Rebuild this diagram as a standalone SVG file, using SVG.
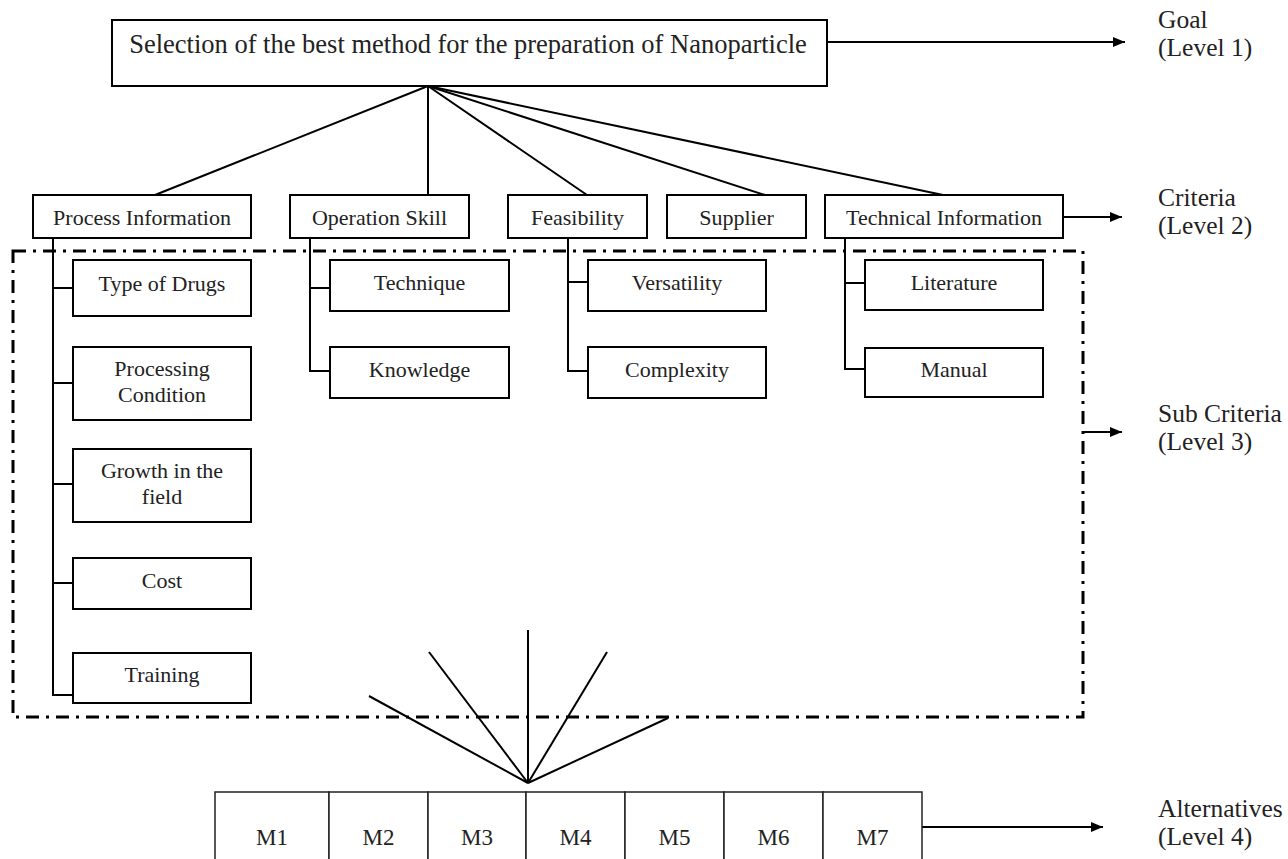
<svg xmlns="http://www.w3.org/2000/svg" width="1288" height="859" viewBox="0 0 1288 859">
<defs>
<style>
.box{fill:#fff;stroke:#000;stroke-width:2}
.cell{fill:#fff;stroke:#222;stroke-width:1.5}
.ln{fill:none;stroke:#000;stroke-width:2}
.t{font-family:"Liberation Serif","Times New Roman",serif;fill:#222;text-anchor:middle}
.g{font-size:26.5px}
.c{font-size:22px}
.s{font-size:22px}
.m{font-size:23px}
.lv{font-family:"Liberation Serif","Times New Roman",serif;fill:#222;font-size:25.5px}
.dd{fill:none;stroke:#000;stroke-width:3;stroke-dasharray:13 7 3 7}
</style>
<marker id="ah" markerWidth="12" markerHeight="10" refX="12" refY="5" orient="auto" markerUnits="userSpaceOnUse">
<path d="M0,0 L12,5 L0,10 Z" fill="#000"/>
</marker>
</defs>
<rect width="1288" height="859" fill="#fff"/>

<g id="subcriteria-boundary">
<rect class="dd" x="13" y="251" width="1070" height="466"/>
</g>

<g id="connectors">
<line class="ln" x1="428" y1="86" x2="155" y2="195"/>
<line class="ln" x1="428" y1="86" x2="428" y2="195"/>
<line class="ln" x1="428" y1="86" x2="587" y2="195"/>
<line class="ln" x1="428" y1="86" x2="765" y2="195"/>
<line class="ln" x1="428" y1="86" x2="943" y2="195"/>
<polyline class="ln" points="53,238 53,695 73,695"/>
<line class="ln" x1="53" y1="288" x2="73" y2="288"/>
<line class="ln" x1="53" y1="383" x2="73" y2="383"/>
<line class="ln" x1="53" y1="484" x2="73" y2="484"/>
<line class="ln" x1="53" y1="583" x2="73" y2="583"/>
<polyline class="ln" points="310,238 310,371 330,371"/>
<line class="ln" x1="310" y1="288" x2="330" y2="288"/>
<polyline class="ln" points="568,238 568,371 588,371"/>
<line class="ln" x1="568" y1="282" x2="588" y2="282"/>
<polyline class="ln" points="845,238 845,369 865,369"/>
<line class="ln" x1="845" y1="283" x2="865" y2="283"/>
<line class="ln" x1="369" y1="696" x2="528" y2="783"/>
<line class="ln" x1="429" y1="652" x2="528" y2="783"/>
<line class="ln" x1="528" y1="630" x2="528" y2="783"/>
<line class="ln" x1="607" y1="652" x2="528" y2="783"/>
<line class="ln" x1="668" y1="718" x2="528" y2="783"/>
<line class="ln" x1="827" y1="42" x2="1125" y2="42" marker-end="url(#ah)"/>
<line class="ln" x1="1063" y1="217" x2="1122" y2="217" marker-end="url(#ah)"/>
<line class="ln" x1="1083" y1="432" x2="1122" y2="432" marker-end="url(#ah)"/>
<line class="ln" x1="922" y1="827" x2="1103" y2="827" marker-end="url(#ah)"/>
</g>

<g id="goal">
<rect class="box" x="112" y="20" width="715" height="66"/>
<text class="t g" x="468" y="53">Selection of the best method for the preparation of Nanoparticle</text>
</g>

<g id="crit-process">
<rect class="box" x="33" y="195" width="218" height="43"/>
<text class="t c" x="142" y="225">Process Information</text>
</g>
<g id="crit-operation">
<rect class="box" x="290" y="195" width="179" height="43"/>
<text class="t c" x="379.5" y="225">Operation Skill</text>
</g>
<g id="crit-feasibility">
<rect class="box" x="508" y="195" width="139" height="43"/>
<text class="t c" x="577.5" y="225">Feasibility</text>
</g>
<g id="crit-supplier">
<rect class="box" x="667" y="195" width="139" height="43"/>
<text class="t c" x="736.5" y="225">Supplier</text>
</g>
<g id="crit-technical">
<rect class="box" x="825" y="195" width="238" height="43"/>
<text class="t c" x="944" y="225">Technical Information</text>
</g>

<g id="sub-type-of-drugs">
<rect class="box" x="73" y="260" width="178" height="56"/>
<text class="t s" x="162" y="291">Type of Drugs</text>
</g>
<g id="sub-processing-condition">
<rect class="box" x="73" y="347" width="178" height="73"/>
<text class="t s" x="162" y="376">Processing</text>
<text class="t s" x="162" y="402">Condition</text>
</g>
<g id="sub-growth">
<rect class="box" x="73" y="449" width="178" height="73"/>
<text class="t s" x="162" y="478">Growth in the</text>
<text class="t s" x="162" y="504">field</text>
</g>
<g id="sub-cost">
<rect class="box" x="73" y="558" width="178" height="51"/>
<text class="t s" x="162" y="588">Cost</text>
</g>
<g id="sub-training">
<rect class="box" x="73" y="653" width="178" height="50"/>
<text class="t s" x="162" y="682">Training</text>
</g>

<g id="sub-technique">
<rect class="box" x="330" y="260" width="179" height="51"/>
<text class="t s" x="419.5" y="290">Technique</text>
</g>
<g id="sub-knowledge">
<rect class="box" x="330" y="347" width="179" height="51"/>
<text class="t s" x="419.5" y="377">Knowledge</text>
</g>
<g id="sub-versatility">
<rect class="box" x="588" y="260" width="178" height="51"/>
<text class="t s" x="677" y="290">Versatility</text>
</g>
<g id="sub-complexity">
<rect class="box" x="588" y="347" width="178" height="51"/>
<text class="t s" x="677" y="377">Complexity</text>
</g>
<g id="sub-literature">
<rect class="box" x="865" y="260" width="178" height="50"/>
<text class="t s" x="954" y="290">Literature</text>
</g>
<g id="sub-manual">
<rect class="box" x="865" y="348" width="178" height="49"/>
<text class="t s" x="954" y="377">Manual</text>
</g>

<g id="alternatives">
<rect class="cell" x="215" y="792" width="114" height="80"/>
<rect class="cell" x="329" y="792" width="99" height="80"/>
<rect class="cell" x="428" y="792" width="98" height="80"/>
<rect class="cell" x="526" y="792" width="99" height="80"/>
<rect class="cell" x="625" y="792" width="99" height="80"/>
<rect class="cell" x="724" y="792" width="99" height="80"/>
<rect class="cell" x="823" y="792" width="99" height="80"/>
<text class="t m" x="272" y="845">M1</text>
<text class="t m" x="378.5" y="845">M2</text>
<text class="t m" x="477" y="845">M3</text>
<text class="t m" x="575.5" y="845">M4</text>
<text class="t m" x="674.5" y="845">M5</text>
<text class="t m" x="773.5" y="845">M6</text>
<text class="t m" x="872.5" y="845">M7</text>
</g>

<g id="level-labels">
<text class="lv" x="1158" y="28">Goal</text>
<text class="lv" x="1158" y="56">(Level 1)</text>
<text class="lv" x="1158" y="206">Criteria</text>
<text class="lv" x="1158" y="234">(Level 2)</text>
<text class="lv" x="1158" y="422">Sub Criteria</text>
<text class="lv" x="1158" y="450">(Level 3)</text>
<text class="lv" x="1158" y="817">Alternatives</text>
<text class="lv" x="1158" y="845">(Level 4)</text>
</g>
</svg>
